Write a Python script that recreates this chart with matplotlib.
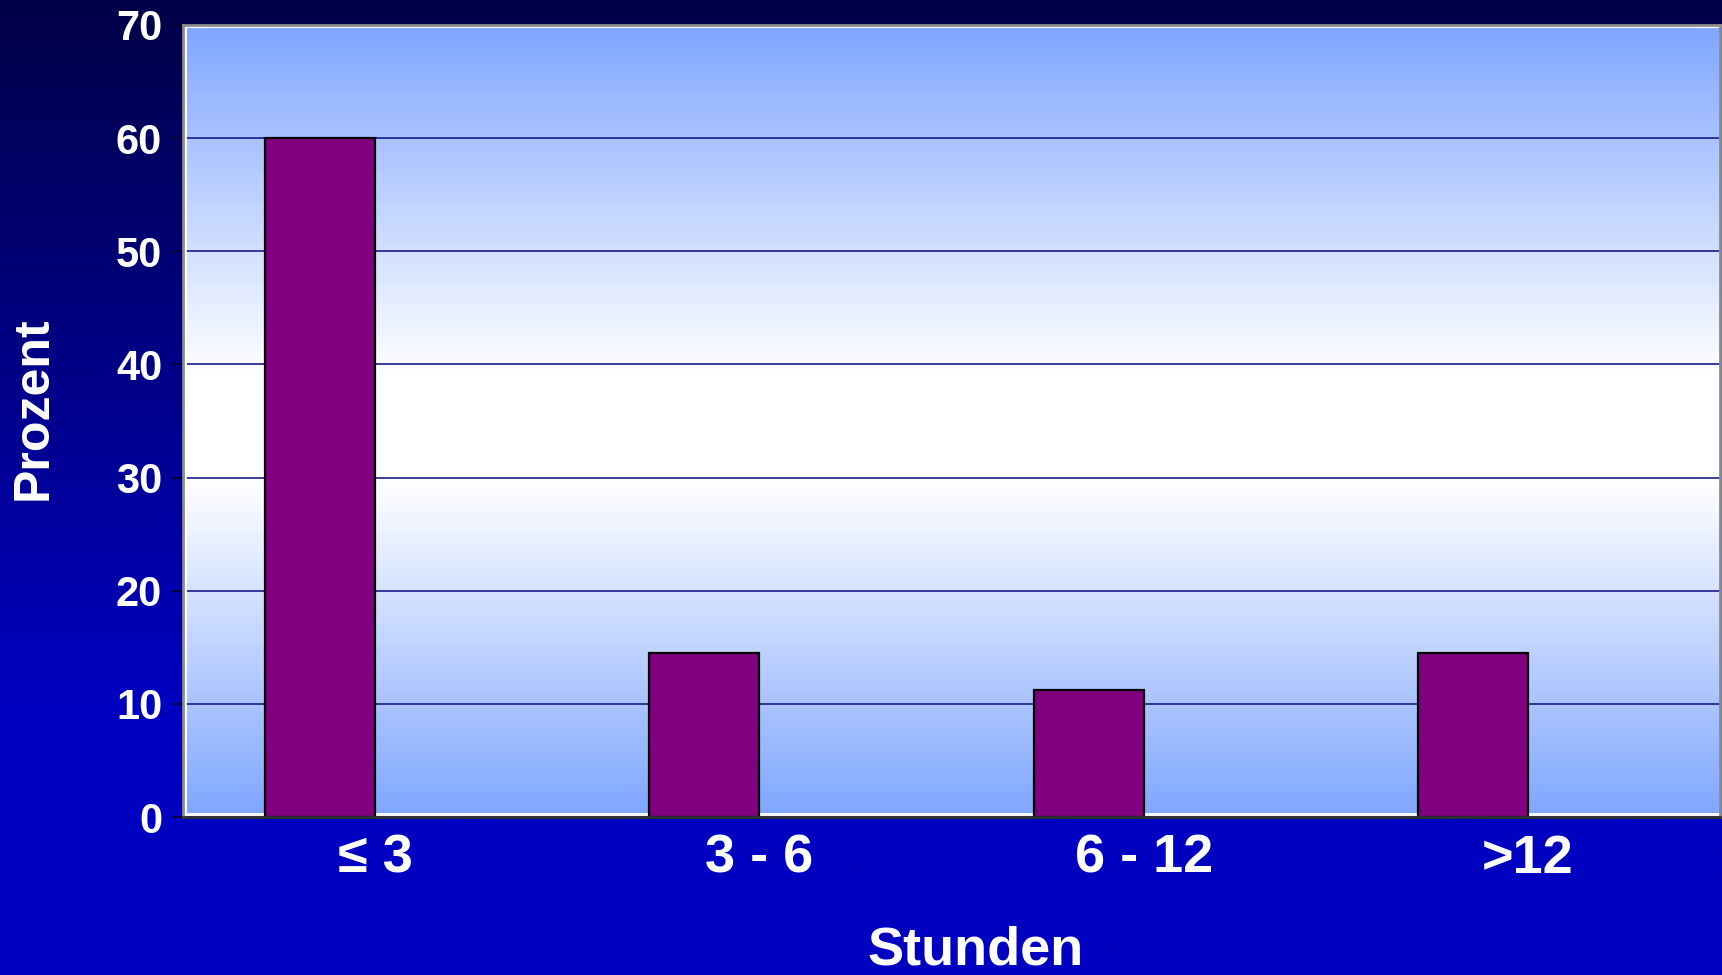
import matplotlib
matplotlib.use('Agg')
import matplotlib.pyplot as plt
import numpy as np
from matplotlib.colors import LinearSegmentedColormap

categories = ['\u2264 3', '3 - 6', '6 - 12', '>12']
percent = [60, 14.5, 11.2, 14.5]
y_ticks = [0, 10, 20, 30, 40, 50, 60, 70]

plt.rcParams['font.family'] = ['Liberation Sans', 'DejaVu Sans']

fig = plt.figure(figsize=(17.22, 9.75), dpi=100)

# slide background: dark navy at top fading to royal blue
bg = fig.add_axes([0, 0, 1, 1], zorder=-10)
bg_cmap = LinearSegmentedColormap.from_list(
    'bg', [(0, '#000048'), (0.72, '#0000C0'), (1, '#0000C0')])
bg.imshow(np.linspace(0, 1, 512).reshape(-1, 1), aspect='auto', cmap=bg_cmap,
          extent=[0, 1, 0, 1])
bg.set_xlim(0, 1)
bg.set_ylim(0, 1)
bg.axis('off')

ax = fig.add_axes([0.1063, 0.162, 0.8925, 0.8125])

# plot area: light blue at the edges, white in the middle
pa_cmap = LinearSegmentedColormap.from_list(
    'pa', [(0, '#7FA6FF'), (0.42, '#FFFFFF'), (0.56, '#FFFFFF'), (1, '#7FA6FF')])
ax.imshow(np.linspace(0, 1, 512).reshape(-1, 1), aspect='auto', cmap=pa_cmap,
          origin='lower', extent=[-0.5, 3.5, 0, 70], zorder=0)

idx = np.arange(len(categories))
width = 0.286
# bars sit left of the category centre (second, empty series slot)
ax.bar(idx, percent, -width, align='edge', color='#800080', edgecolor='#000000',
       linewidth=1.6, zorder=2)

ax.set_xlim(-0.5, 3.5)
ax.set_ylim(0, 70)
ax.set_yticks(y_ticks)
ax.set_xticks(idx)
ax.set_xticklabels(categories)

ax.set_axisbelow(True)
ax.yaxis.grid(True, color='#1a1a8c', linewidth=1.2)

# inner white frame lines
ax.plot([0, 1], [0.004, 0.004], transform=ax.transAxes, color='white', lw=2, zorder=1)
ax.plot([0.0015, 0.0015], [0, 1], transform=ax.transAxes, color='white', lw=2, zorder=1)
ax.plot([0, 1], [0.997, 0.997], transform=ax.transAxes, color='white', lw=1.5, zorder=1)

for side in ['left', 'top', 'right']:
    ax.spines[side].set_color('#8c8c8c')
    ax.spines[side].set_linewidth(2)
ax.spines['bottom'].set_color('#303030')
ax.spines['bottom'].set_linewidth(2)

ax.tick_params(axis='y', colors='#000030', length=8, width=1.2, labelsize=30,
               labelcolor='white', pad=7)
ax.tick_params(axis='x', length=0, labelsize=39, labelcolor='white', pad=12)
for lab in ax.get_xticklabels() + ax.get_yticklabels():
    lab.set_fontweight('bold')

ax.set_xlabel('Stunden', fontsize=39, fontweight='bold', color='white', labelpad=30)
ax.set_ylabel('Prozent', fontsize=36, fontweight='bold', color='white', labelpad=43)
ax.xaxis.label.set_x(0.5156)
ax.yaxis.label.set_y(0.516)

fig.savefig('out.png', dpi=100)
